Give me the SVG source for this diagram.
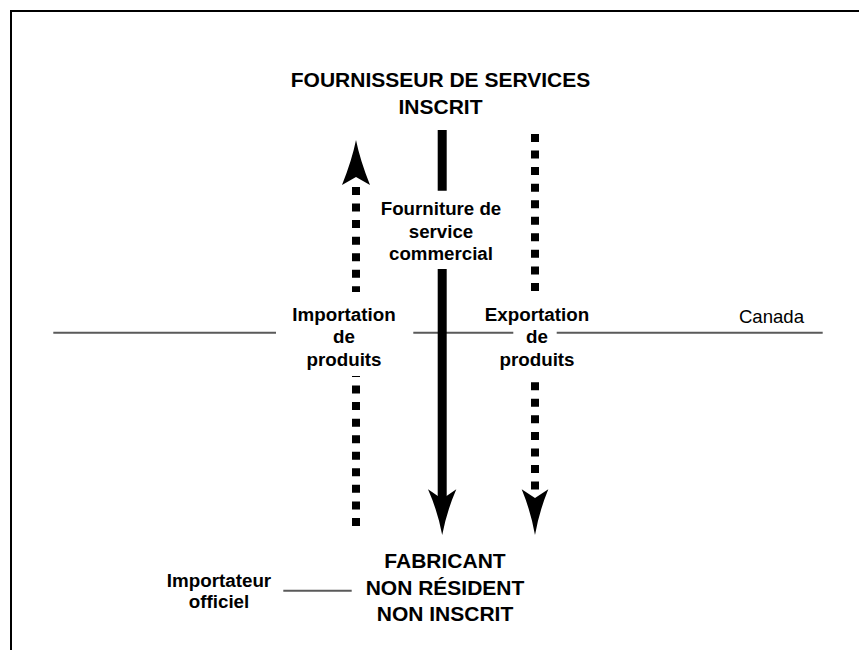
<svg xmlns="http://www.w3.org/2000/svg" width="859" height="650" viewBox="0 0 859 650">
<style>
.t{font-family:"Liberation Sans",Arial,sans-serif;fill:#000;text-anchor:middle}
.b{font-weight:bold}
.geo{stroke:#5a5a5a;stroke-width:2;fill:none}
.dot{stroke:#000;stroke-width:8;fill:none;stroke-dasharray:8 8.55}
.solid{stroke:#000;stroke-width:9;fill:none}
.head{fill:#000;stroke:none}
</style>
<rect width="859" height="650" fill="#fff"/>
<g id="frame">
<path d="M11 650 V11 H859" fill="none" stroke="#000" stroke-width="2"/>
</g>
<g id="connectors">
<path class="geo" d="M53.3 332.7 H276 M413.3 332.7 H513.3 M556.7 332.7 H822.7"/>
<path class="geo" d="M283.3 590.7 H351.7"/>
<path class="dot" d="M356 187 V292"/>
<path class="dot" d="M356 376 V527" stroke-dashoffset="7"/>
<path class="head" d="M356 140 Q360 160 370 185 L356 177 L342 185 Q352 160 356 140Z"/>
<path class="solid" d="M442.2 130 V190.7 M442.2 269 V500"/>
<path class="head" d="M442.2 535 Q438 512 428 489.3 L442.2 499 L456.3 489.3 Q446.5 512 442.2 535Z"/>
<path class="dot" d="M535 134 V292"/>
<path class="dot" d="M535 382.25 V490"/>
<path class="head" d="M535 535 Q531 512 521.7 489.3 L535 498 L548.3 489.3 Q539 512 535 535Z"/>
</g>
<g id="node-fournisseur">
<text class="t b" font-size="21" x="440.5" y="87.3">FOURNISSEUR DE SERVICES</text>
<text class="t b" font-size="21" x="440.5" y="114">INSCRIT</text>
</g>
<g id="label-fourniture">
<text class="t b" font-size="18.7" x="441" y="215">Fourniture de</text>
<text class="t b" font-size="18.7" x="441" y="237.5">service</text>
<text class="t b" font-size="18.7" x="441" y="260">commercial</text>
</g>
<g id="label-importation">
<text class="t b" font-size="18.8" x="344" y="320.7">Importation</text>
<text class="t b" font-size="18.8" x="344" y="343.3">de</text>
<text class="t b" font-size="18.8" x="344" y="365.5">produits</text>
</g>
<g id="label-exportation">
<text class="t b" font-size="18.8" x="537" y="320.7">Exportation</text>
<text class="t b" font-size="18.8" x="537" y="343.3">de</text>
<text class="t b" font-size="18.8" x="537" y="365.5">produits</text>
</g>
<g id="label-canada">
<text class="t" font-size="18.6" x="771.5" y="323.3">Canada</text>
</g>
<g id="node-fabricant">
<text class="t b" font-size="21" x="445" y="568.3">FABRICANT</text>
<text class="t b" font-size="21" x="445" y="594.5">NON RÉSIDENT</text>
<text class="t b" font-size="21" x="445" y="620.5">NON INSCRIT</text>
</g>
<g id="node-importateur">
<text class="t b" font-size="18.8" x="219" y="586.7">Importateur</text>
<text class="t b" font-size="18.8" x="219" y="608.3">officiel</text>
</g>
</svg>
